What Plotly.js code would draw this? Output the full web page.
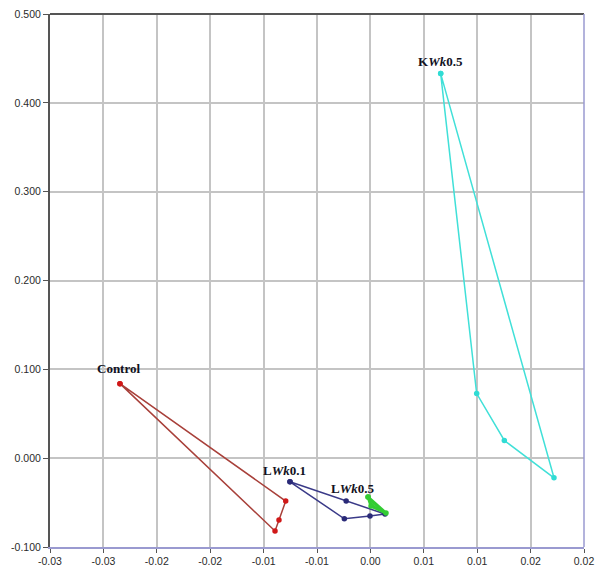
<!DOCTYPE html>
<html>
<head>
<meta charset="utf-8">
<script src="https://cdn.plot.ly/plotly-3.0.1.min.js"></script>
<style>html,body{margin:0;padding:0;background:#fff;}#chart{width:599px;height:570px;}</style>
</head>
<body>
<div id="chart"></div>
<script>
// Polygon vertices (closed loops) for each group
var controlX = [-0.02345, -0.00793, -0.00856, -0.00893, -0.02345];
var controlY = [0.0839, -0.0483, -0.0697, -0.0820, 0.0839];

var lwk01X = [-0.00753, -0.00227, 0.00137, -0.00004, -0.00244, -0.00753];
var lwk01Y = [-0.0266, -0.0482, -0.0629, -0.0652, -0.0682, -0.0266];

var lwk05X = [-0.00022, 0.00146, 0.00006, -0.00022];
var lwk05Y = [-0.0438, -0.0618, -0.0539, -0.0438];

var kwk05X = [0.00658, 0.00995, 0.01254, 0.01719, 0.00658];
var kwk05Y = [0.4329, 0.0727, 0.0199, -0.0221, 0.4329];

var groupNames = ["Control", "L<i>Wk</i>0.1", "L<i>Wk</i>0.5", "K<i>Wk</i>0.5"];
var labelX = [-0.02363, -0.00800, -0.00172, 0.00661];
var labelY = [0.1011, -0.0135, -0.0337, 0.447];

var xTickVals = [-0.030, -0.025, -0.020, -0.015, -0.010, -0.005, 0.000, 0.005, 0.010, 0.015, 0.020];
var xTickText = ["-0.03", "-0.03", "-0.02", "-0.02", "-0.01", "-0.01", "0.00", "0.01", "0.01", "0.02", "0.02"];
var yTickVals = [-0.1, 0.0, 0.1, 0.2, 0.3, 0.4, 0.5];
var yTickText = ["-0.100", "0.000", "0.100", "0.200", "0.300", "0.400", "0.500"];

function trace(x, y, lineColor, markerColor, w, fill) {
  return {
    x: x, y: y, type: 'scatter', mode: 'lines+markers',
    line: {color: lineColor, width: w},
    marker: {color: markerColor, size: 5.5},
    fill: fill ? 'toself' : 'none', fillcolor: fill || undefined,
    hoverinfo: 'skip', showlegend: false, cliponaxis: false
  };
}

var data = [
  trace(controlX, controlY, '#a8403a', '#d01818', 1.5),
  trace(lwk01X, lwk01Y, '#3a3a88', '#2a2a78', 1.5),
  trace(lwk05X, lwk05Y, '#33cc33', '#33cc33', 3, '#44d044'),
  trace(kwk05X, kwk05Y, '#40e0d8', '#30dcd4', 1.5)
];

var annotations = groupNames.map(function (t, i) {
  return {
    x: labelX[i], y: labelY[i], xref: 'x', yref: 'y',
    text: '<b>' + t + '</b>', showarrow: false,
    font: {family: 'Liberation Serif, Times New Roman, serif', size: 13, color: '#111122'}
  };
});

var tickFont = {family: 'Liberation Sans, Arial, sans-serif', size: 10.5, color: '#2a2a2a'};

var layout = {
  width: 599, height: 570,
  margin: {l: 50, r: 15, t: 14, b: 23},
  paper_bgcolor: '#ffffff', plot_bgcolor: '#ffffff',
  xaxis: {
    range: [-0.030, 0.020], tickvals: xTickVals, ticktext: xTickText,
    showgrid: true, gridcolor: '#c4c4c4', gridwidth: 2,
    zeroline: false, showline: true, linecolor: '#9a9ad0', linewidth: 1.5,
    ticks: 'outside', ticklen: 4, tickcolor: '#555555',
    tickfont: tickFont
  },
  yaxis: {
    range: [-0.100, 0.500], tickvals: yTickVals, ticktext: yTickText,
    showgrid: true, gridcolor: '#c4c4c4', gridwidth: 2,
    zeroline: false, showline: true, linecolor: '#555555', linewidth: 2,
    ticks: 'outside', ticklen: 5, tickcolor: '#555555',
    tickfont: tickFont
  },
  shapes: [
    {type: 'line', xref: 'paper', yref: 'paper', x0: 0, x1: 1, y0: 1, y1: 1, line: {color: '#555555', width: 2}},
    {type: 'line', xref: 'paper', yref: 'paper', x0: 1, x1: 1, y0: 0, y1: 1, line: {color: '#9a9ad0', width: 1.5}}
  ],
  annotations: annotations
};

Plotly.newPlot('chart', data, layout, {displayModeBar: false, staticPlot: true});
</script>
</body>
</html>
